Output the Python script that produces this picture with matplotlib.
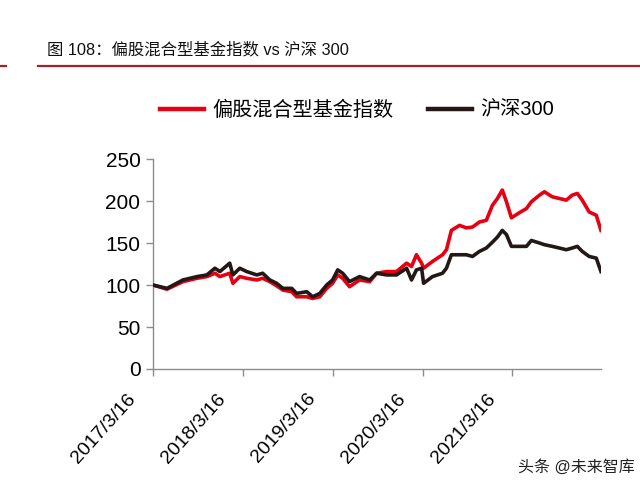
import matplotlib
matplotlib.use("Agg")
import matplotlib.pyplot as plt
import matplotlib.transforms as mtransforms
from matplotlib.lines import Line2D
import pandas as pd

plt.rcParams['font.family'] = ['Liberation Sans', 'Noto Sans CJK SC', 'DejaVu Sans']

dates = ["2017-03-16", "2017-05-12", "2017-07-16", "2017-09-11", "2017-10-21", "2017-11-23",
         "2017-12-13", "2018-01-22", "2018-02-04", "2018-03-04", "2018-04-01", "2018-05-12",
         "2018-06-05", "2018-07-04", "2018-08-01", "2018-08-26", "2018-10-01", "2018-10-21",
         "2018-12-01", "2018-12-25", "2019-01-23", "2019-02-20", "2019-03-16", "2019-04-06",
         "2019-04-26", "2019-05-24", "2019-07-04", "2019-08-14", "2019-09-11", "2019-10-22",
         "2019-12-01", "2020-01-11", "2020-01-31", "2020-02-20", "2020-03-12", "2020-03-20",
         "2020-04-25", "2020-06-05", "2020-06-21", "2020-07-11", "2020-08-13", "2020-09-10",
         "2020-10-05", "2020-11-02", "2020-11-30", "2020-12-25", "2021-01-14", "2021-02-03",
         "2021-02-20", "2021-03-12", "2021-04-13", "2021-05-12", "2021-06-01", "2021-07-04",
         "2021-07-24", "2021-08-25", "2021-09-23", "2021-10-21", "2021-11-14", "2021-12-05",
         "2021-12-25", "2022-01-22", "2022-02-20", "2022-03-11"]

fund_index = [100, 95, 104, 108, 110, 114, 110, 114, 102, 110, 108, 106,
              108, 104, 99, 94, 92, 86, 86, 84, 86, 96, 102, 112,
              108, 98, 106, 104, 114, 116, 116, 126, 122, 136, 126, 120,
              128, 136, 142, 165, 171, 168, 169, 175, 177, 195, 203, 213,
              199, 180, 186, 191, 199, 207, 211, 205, 203, 201, 207, 209,
              201, 187, 183, 165]

hs300 = [100, 96, 106, 110, 112, 120, 116, 126, 112, 120, 116, 112,
         114, 106, 102, 96, 96, 90, 92, 86, 90, 100, 106, 118,
         114, 104, 110, 106, 114, 112, 112, 120, 106, 118, 120, 102,
         110, 114, 120, 136, 136, 136, 134, 140, 144, 151, 157, 165,
         160, 146, 146, 146, 153, 150, 148, 146, 144, 142, 144, 146,
         140, 134, 132, 116]

tick_dates = ["2017-03-16", "2018-03-16", "2019-03-16", "2020-03-16", "2021-03-16"]
tick_labels = ["2017/3/16", "2018/3/16", "2019/3/16", "2020/3/16", "2021/3/16"]
y_ticks = [0, 50, 100, 150, 200, 250]

series_names = ["偏股混合型基金指数", "沪深300"]
title_text = "图 108：偏股混合型基金指数 vs 沪深 300"
watermark = "头条 @未来智库"

RED = "#e60012"
BLACK = "#231815"

d = pd.to_datetime(dates)
fig = plt.figure(figsize=(6.4, 4.87), dpi=100)
ax = fig.add_axes([0.239, 0.2423, 0.700, 0.4312])

ax.plot(d, fund_index, color=RED, lw=2.6, solid_joinstyle='round', zorder=2)
ax.plot(d, hs300, color=BLACK, lw=2.6, solid_joinstyle='round', zorder=3)

ax.set_ylim(0, 250)
ax.set_yticks(y_ticks)
ax.set_xlim(pd.Timestamp("2017-03-16"), pd.Timestamp("2022-03-11"))
ax.set_xticks(pd.to_datetime(tick_dates))
ax.set_xticklabels(tick_labels, rotation=48, ha='right', va='top', rotation_mode='anchor')

for s in ['top', 'right']:
    ax.spines[s].set_visible(False)
for s in ['left', 'bottom']:
    ax.spines[s].set_color('#8c8c8c')
    ax.spines[s].set_linewidth(1.0)
ax.tick_params(axis='both', colors='#8c8c8c', length=5, width=1.0, labelcolor='black')
ax.tick_params(axis='y', pad=4, labelsize=15)
ax.tick_params(axis='x', pad=6, labelsize=14)

offset = mtransforms.ScaledTranslation(-26/100, -6/100, fig.dpi_scale_trans)
for lab in ax.get_xticklabels():
    lab.set_transform(lab.get_transform() + offset)

# Title and rule
fig.text(47/640, 1-50/487, title_text, fontsize=11.8, ha='left', va='center', color='#111111')
fig.add_artist(Line2D([38/640, 1.0], [1-66/487, 1-66/487], color='#a0232a', lw=1.6))
fig.add_artist(Line2D([0, 6/640], [1-66/487, 1-66/487], color='#a0232a', lw=1.6))

# Legend
handles = [Line2D([], [], color=RED, lw=3.2), Line2D([], [], color=BLACK, lw=3.2)]
fig.legend(handles, series_names, loc='center', bbox_to_anchor=(357/640, 1-110/487), ncol=2,
           frameon=False, fontsize=14.5, handlelength=2.2, handletextpad=0.4, columnspacing=1.7)

fig.text(635/640, 1-467/487, watermark, fontsize=11.5, ha='right', va='center', color='#222222')

fig.savefig("out.png", dpi=100)
